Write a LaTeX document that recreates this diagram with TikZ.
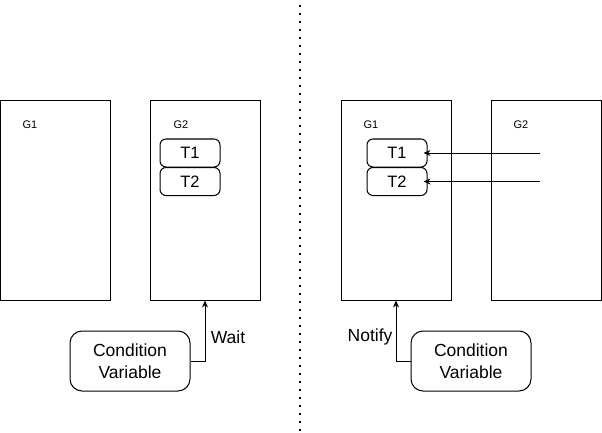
\documentclass[tikz,border=0pt]{standalone}
\usepackage{fontspec}
\setmainfont{Liberation Sans}
\usetikzlibrary{arrows.meta}
\tikzset{
  gbox/.style={draw, line width=1pt, minimum width=110pt, minimum height=199pt, inner sep=0pt},
  tbox/.style={draw, line width=1pt, rounded corners=6pt, minimum width=60pt, minimum height=28pt, inner sep=0pt, font=\fontsize{16.5}{20}\selectfont},
  cvbox/.style={draw, line width=1pt, rounded corners=12pt, minimum width=120pt, minimum height=60pt, inner sep=0pt, align=center, font=\fontsize{17.5}{22}\selectfont},
  glabel/.style={font=\fontsize{11}{13}\selectfont},
  siglabel/.style={font=\fontsize{17.5}{21}\selectfont},
  sig/.style={-{Stealth[length=7pt,width=6pt]}, line width=1pt},
}
\begin{document}
\begin{tikzpicture}[x=1pt,y=-1pt]
				\useasboundingbox (0,0) rectangle (602,433);
				% separator
				\draw[line width=1.6pt, dash pattern=on 1.6pt off 6.4pt] (300,5)--(300,433);
				% left side: waiting
				\node[gbox] (g1l) at (55.5,200.5){};
				\node[gbox] (g2l) at (205,200.5){};
				\node[glabel] at (30,125){G1};
				\node[glabel] at (181,125){G2};
				\node[tbox] (t1l) at (190,153){T1};
				\node[tbox] (t2l) at (190,181.5){T2};
				\node[cvbox] (cvl) at (130,361){Condition\\Variable};
				\draw[sig] (cvl.east) -| (g2l.south);
				\node[siglabel] (waitlbl) at (228,337){Wait};
				% right side: notified
				\node[gbox] (g1r) at (396,200.5){};
				\node[gbox] (g2r) at (546,200.5){};
				\node[glabel] at (371,125){G1};
				\node[glabel] at (521,125){G2};
				\node[tbox] (t1r) at (397,153){T1};
				\node[tbox] (t2r) at (397,181.5){T2};
				\coordinate (src1) at (540,153);
				\coordinate (src2) at (540,181.5);
				\draw[sig] (src1)--([xshift=-4pt]t1r.east);
				\draw[sig] (src2)--([xshift=-4pt]t2r.east);
				\node[cvbox] (cvr) at (471,361){Condition\\Variable};
				\draw[sig] (cvr.west) -| (g1r.south);
				\node[siglabel] (notifylbl) at (370,337){Notify};
\end{tikzpicture}
\end{document}
